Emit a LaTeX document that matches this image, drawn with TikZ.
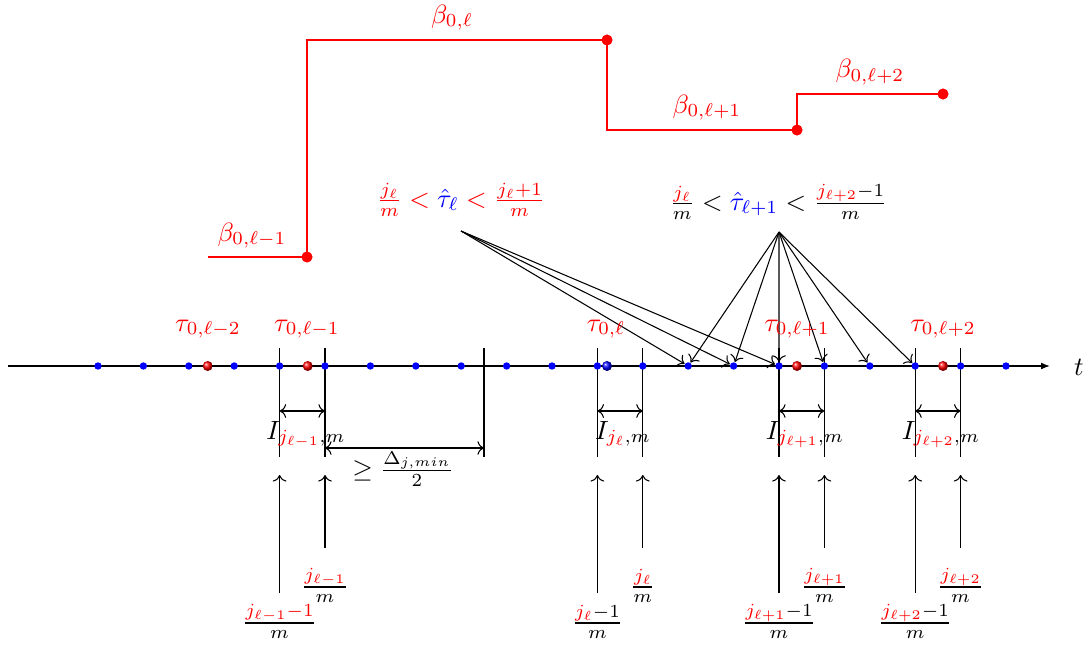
\documentclass[tikz,border=0pt]{standalone}
\usetikzlibrary{arrows.meta}
\begin{document}
\begin{tikzpicture}[x=0.3788pt,y=-0.3788pt,
  bdot/.style={circle,fill=blue,inner sep=0pt,minimum size=2.8pt},
  rball/.style={circle,shade,ball color=red,inner sep=0pt,minimum size=3.8pt},
  bball/.style={circle,shade,ball color=blue,inner sep=0pt,minimum size=3.8pt},
  sdot/.style={circle,fill=red,inner sep=0pt,minimum size=4.1pt},
  stepline/.style={red,line width=1.05pt},
  lbl/.style={anchor=base,inner sep=0pt},
  ptr/.style={->,line width=0.4pt},
  ivl/.style={line width=0.4pt}]
\useasboundingbox (0,0) rectangle (1087,650);

% step function
\node[sdot] (p1) at (307,257) {};
\node[sdot] (p3) at (607,40) {};
\node[sdot] (p5) at (797,130) {};
\node[sdot] (p7) at (943,94) {};
\coordinate (s0) at (208,257);
\coordinate (s2) at (307,40);
\coordinate (s4) at (607,130);
\coordinate (s6) at (797,94);
\draw[stepline] (s0) -- (p1.center) -- (s2) -- (p3.center) -- (s4) -- (p5.center) -- (s6) -- (p7.center);
\node[sdot] at (p1) {};
\node[sdot] at (p3) {};
\node[sdot] at (p5) {};
\node[sdot] at (p7) {};

\node[lbl,text=red] (b1) at (252,241) {$\beta_{0,\ell-1}$};
\node[lbl,text=red] (b2) at (452,23) {$\beta_{0,\ell}$};
\node[lbl,text=red] (b3) at (707,113) {$\beta_{0,\ell+1}$};
\node[lbl,text=red] (b4) at (870,78) {$\beta_{0,\ell+2}$};

% annotations
\node[lbl] (h1) at (461,207) {$\color{red}\frac{j_\ell}{m} < {\color{blue}\hat{\tau}_\ell} < \frac{j_\ell+1}{m}$};
\node[lbl] (h2) at (778.5,210) {$\frac{{\color{red}j_\ell}}{m} < {\color{blue}\hat{\tau}_{\ell+1}} < \frac{{\color{red}j_{\ell+2}}-1}{m}$};
\coordinate (o1) at (461,231);
\coordinate (o2) at (779,232);

% axis
\coordinate (a0) at (8,366);
\coordinate (a1) at (1050,366);
\draw[-{Latex[length=3.4pt,width=2.6pt]},line width=0.45pt] (a0) -- (a1);
\node (t) at (1079,367.5) {$t$};

% interval lines
\foreach \k in {4,5,11,12,15,16,18,19}{
  \draw[ivl] ({98+45.4*\k},348) -- ({98+45.4*\k},457);
}
\draw[ivl] (484,348) -- (484,457);
\foreach \k in {4,11,15,18}{
  \draw[<->,line width=0.4pt] ({98+45.4*\k},411) -- ({98+45.4*(\k+1)},411);
}
\draw[<->,line width=0.4pt] (325,448) -- (484,448);
\node[lbl] (dl) at (403,477.5) {$\geq \frac{\Delta_{j,min}}{2}$};

% dots
\foreach \i in {0,...,20}{
  \node[bdot] (d\i) at ({98+45.4*\i},366) {};
}
\node[rball] (r1) at (207.7,366) {};
\node[rball] (r2) at (307.7,366) {};
\node[bball] (r3) at (607,366) {};
\node[rball] (r4) at (797,366) {};
\node[rball] (r5) at (943,366) {};

% pointers
\foreach \i in {13,14,15}{ \draw[ptr] (o1) -- (d\i); }
\foreach \i in {13,...,18}{ \draw[ptr] (o2) -- (d\i); }

% tau labels
\node[lbl,text=red] (t1) at (208,331) {$\tau_{0,\ell-2}$};
\node[lbl,text=red] (t2) at (307,331) {$\tau_{0,\ell-1}$};
\node[lbl,text=red] (t3) at (606,331) {$\tau_{0,\ell}$};
\node[lbl,text=red] (t4) at (797,331) {$\tau_{0,\ell+1}$};
\node[lbl,text=red] (t5) at (943,331) {$\tau_{0,\ell+2}$};

% interval labels
\node[lbl] (i1) at (306,439) {$I_{{\color{red}j_{\ell-1}},m}$};
\node[lbl] (i2) at (623,439) {$I_{{\color{red}j_{\ell}},m}$};
\node[lbl] (i3) at (805,439) {$I_{{\color{red}j_{\ell+1}},m}$};
\node[lbl] (i4) at (941,439) {$I_{{\color{red}j_{\ell+2}},m}$};

% lower arrows
\foreach \k in {4,11,15,18}{
  \draw[ptr] ({98+45.4*\k},593) -- ({98+45.4*\k},475);
  \draw[ptr] ({98+45.4*(\k+1)},548) -- ({98+45.4*(\k+1)},475);
}
\node[lbl] (f1) at (279.6,629.6) {$\frac{{\color{red}j_{\ell-1}-1}}{m}$};
\node[lbl] (g1) at (325,593.6) {$\frac{{\color{red}j_{\ell-1}}}{m}$};
\node[lbl] (f2) at (597.4,629.6) {$\frac{{\color{red}j_{\ell}}-1}{m}$};
\node[lbl] (g2) at (642.8,593.6) {$\frac{{\color{red}j_{\ell}}}{m}$};
\node[lbl] (f3) at (779,629.6) {$\frac{{\color{red}j_{\ell+1}}-1}{m}$};
\node[lbl] (g3) at (824.4,593.6) {$\frac{{\color{red}j_{\ell+1}}}{m}$};
\node[lbl] (f4) at (915.2,629.6) {$\frac{{\color{red}j_{\ell+2}}-1}{m}$};
\node[lbl] (g4) at (960.6,593.6) {$\frac{{\color{red}j_{\ell+2}}}{m}$};
\end{tikzpicture}
\end{document}
